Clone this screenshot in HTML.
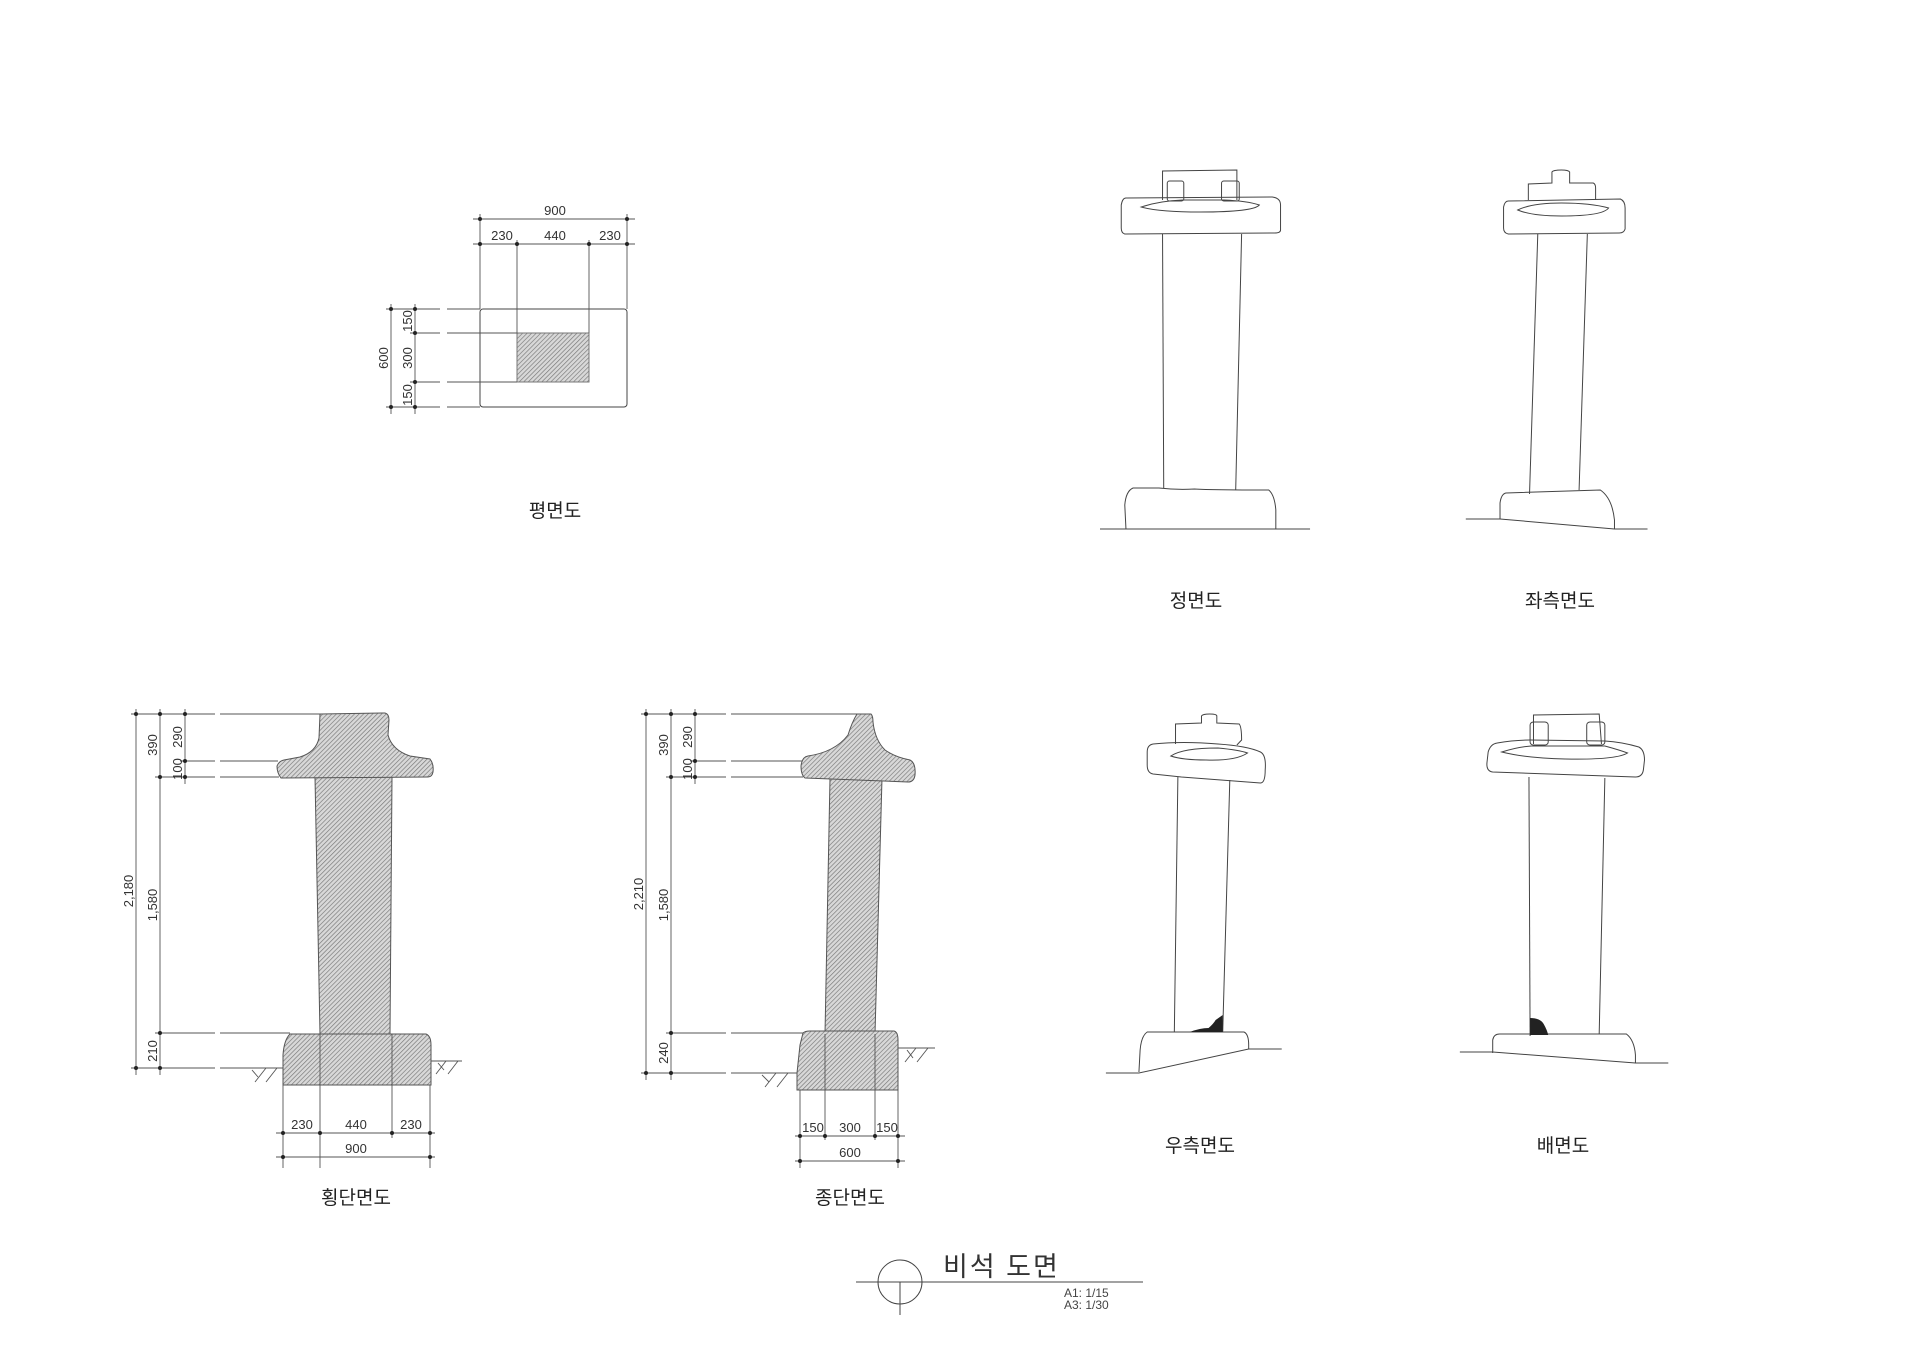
<!DOCTYPE html>
<html><head><meta charset="utf-8"><style>
html,body{margin:0;padding:0;background:#fff}
svg{display:block}
text{font-family:"Liberation Sans","Noto Sans CJK KR",sans-serif;fill:#333}
.l{fill:none;stroke:#444;stroke-width:1}
.l *{vector-effect:non-scaling-stroke}
.d{fill:none;stroke:#555;stroke-width:0.9}
.h{fill:url(#hatch);stroke:#555;stroke-width:1}
.t{font-size:13px;text-anchor:middle}
.lab{font-size:19px;text-anchor:middle;fill:#222}
</style></head><body>
<svg width="1920" height="1357" viewBox="0 0 1920 1357" xmlns="http://www.w3.org/2000/svg">
<defs>
<pattern id="hatch" width="3.2" height="3.2" patternUnits="userSpaceOnUse" patternTransform="rotate(45)">
<rect width="3.2" height="3.2" fill="#d8d8d8"/>
<line x1="0" y1="0" x2="0" y2="3.2" stroke="#777" stroke-width="1.3"/>
</pattern>
<g id="dot"><circle r="2" fill="#222"/></g>
</defs>

<!-- ===== 평면도 ===== -->
<g>
<rect x="480" y="309" width="147" height="98" rx="3" class="l"/>
<rect x="517" y="333" width="72" height="49" class="h" style="stroke:#777"/>
<line x1="473" y1="219" x2="635" y2="219" class="d"/>
<line x1="473" y1="244" x2="635" y2="244" class="d"/>
<line x1="480" y1="214" x2="480" y2="309" class="d"/>
<line x1="627" y1="214" x2="627" y2="309" class="d"/>
<line x1="517" y1="240" x2="517" y2="333" class="d"/>
<line x1="589" y1="240" x2="589" y2="333" class="d"/>
<use href="#dot" x="480" y="219"/><use href="#dot" x="627" y="219"/>
<use href="#dot" x="480" y="244"/><use href="#dot" x="517" y="244"/><use href="#dot" x="589" y="244"/><use href="#dot" x="627" y="244"/>
<text x="555" y="215" class="t">900</text>
<text x="502" y="240" class="t">230</text>
<text x="555" y="240" class="t">440</text>
<text x="610" y="240" class="t">230</text>
<line x1="391" y1="304" x2="391" y2="414" class="d"/>
<line x1="415" y1="304" x2="415" y2="414" class="d"/>
<line x1="386" y1="309" x2="440" y2="309" class="d"/><line x1="447" y1="309" x2="480" y2="309" class="d"/>
<line x1="410" y1="333" x2="440" y2="333" class="d"/><line x1="447" y1="333" x2="517" y2="333" class="d"/>
<line x1="410" y1="382" x2="440" y2="382" class="d"/><line x1="447" y1="382" x2="517" y2="382" class="d"/>
<line x1="386" y1="407" x2="440" y2="407" class="d"/><line x1="447" y1="407" x2="480" y2="407" class="d"/>
<use href="#dot" x="391" y="309"/><use href="#dot" x="391" y="407"/>
<use href="#dot" x="415" y="309"/><use href="#dot" x="415" y="333"/><use href="#dot" x="415" y="382"/><use href="#dot" x="415" y="407"/>
<text transform="translate(393,358) rotate(-90)" x="0" y="-5" class="t">600</text>
<text transform="translate(417,321) rotate(-90)" x="0" y="-5" class="t">150</text>
<text transform="translate(417,358) rotate(-90)" x="0" y="-5" class="t">300</text>
<text transform="translate(417,395) rotate(-90)" x="0" y="-5" class="t">150</text>
<text x="555" y="517" class="lab">평면도</text>
</g>

<!-- ===== 횡단면도 ===== -->
<g>
<line x1="136" y1="709" x2="136" y2="1075" class="d"/>
<line x1="160" y1="709" x2="160" y2="1075" class="d"/>
<line x1="185" y1="709" x2="185" y2="784" class="d"/>
<line x1="131" y1="714" x2="215" y2="714" class="d"/><line x1="220" y1="714" x2="320" y2="714" class="d"/>
<line x1="180" y1="761" x2="215" y2="761" class="d"/><line x1="220" y1="761" x2="278" y2="761" class="d"/>
<line x1="155" y1="777" x2="215" y2="777" class="d"/><line x1="220" y1="777" x2="279" y2="777" class="d"/>
<line x1="155" y1="1033" x2="215" y2="1033" class="d"/><line x1="220" y1="1033" x2="290" y2="1033" class="d"/>
<line x1="131" y1="1068" x2="215" y2="1068" class="d"/><line x1="220" y1="1068" x2="283" y2="1068" class="d"/>
<use href="#dot" x="136" y="714"/><use href="#dot" x="160" y="714"/><use href="#dot" x="185" y="714"/>
<use href="#dot" x="185" y="761"/><use href="#dot" x="160" y="777"/><use href="#dot" x="185" y="777"/>
<use href="#dot" x="160" y="1033"/><use href="#dot" x="136" y="1068"/><use href="#dot" x="160" y="1068"/>
<text transform="translate(138,891) rotate(-90)" y="-5" class="t">2,180</text>
<text transform="translate(162,745) rotate(-90)" y="-5" class="t">390</text>
<text transform="translate(187,737) rotate(-90)" y="-5" class="t">290</text>
<text transform="translate(187,769) rotate(-90)" y="-5" class="t">100</text>
<text transform="translate(162,905) rotate(-90)" y="-5" class="t">1,580</text>
<text transform="translate(162,1051) rotate(-90)" y="-5" class="t">210</text>
<path d="M315 777 L392 777 L390 1034 L320 1034 Z" class="h"/>
<path d="M320 714 L385 713 Q389 714 389 720 L388 735 Q392 750 410 756 L430 759 Q434 764 433 772 Q432 777 428 777 L281 778 Q277 773 277 766 Q279 761 284 760 L300 757 Q316 752 319 738 Z" class="h"/>
<path d="M283 1085 L283 1055 Q284 1040 290 1034 L426 1034 Q431 1036 431 1045 L431 1085 Z" class="h"/>
<line x1="320" y1="1034" x2="320" y2="1168" class="d"/>
<line x1="392" y1="1034" x2="392" y2="1138" class="d"/>
<line x1="283" y1="1085" x2="283" y2="1168" class="d"/>
<line x1="430" y1="1085" x2="430" y2="1168" class="d"/>
<g class="d">
<line x1="250" y1="1068" x2="283" y2="1068"/><line x1="255" y1="1082" x2="266" y2="1068"/><line x1="266" y1="1082" x2="277" y2="1068"/><line x1="258" y1="1077" x2="252" y2="1070"/>
<line x1="431" y1="1061" x2="462" y2="1061"/><line x1="436" y1="1074" x2="446" y2="1061"/><line x1="448" y1="1074" x2="458" y2="1061"/><line x1="444" y1="1070" x2="438" y2="1063"/>
</g>
<line x1="276" y1="1133" x2="435" y2="1133" class="d"/>
<line x1="276" y1="1157" x2="435" y2="1157" class="d"/>
<use href="#dot" x="283" y="1133"/><use href="#dot" x="320" y="1133"/><use href="#dot" x="392" y="1133"/><use href="#dot" x="430" y="1133"/>
<use href="#dot" x="283" y="1157"/><use href="#dot" x="430" y="1157"/>
<text x="302" y="1129" class="t">230</text>
<text x="356" y="1129" class="t">440</text>
<text x="411" y="1129" class="t">230</text>
<text x="356" y="1153" class="t">900</text>
<text x="356" y="1204" class="lab">횡단면도</text>
</g>

<!-- ===== 종단면도 ===== -->
<g>
<line x1="646" y1="709" x2="646" y2="1080" class="d"/>
<line x1="671" y1="709" x2="671" y2="1080" class="d"/>
<line x1="695" y1="709" x2="695" y2="784" class="d"/>
<line x1="641" y1="714" x2="726" y2="714" class="d"/><line x1="731" y1="714" x2="858" y2="714" class="d"/>
<line x1="690" y1="761" x2="726" y2="761" class="d"/><line x1="731" y1="761" x2="802" y2="761" class="d"/>
<line x1="666" y1="777" x2="726" y2="777" class="d"/><line x1="731" y1="777" x2="803" y2="777" class="d"/>
<line x1="666" y1="1033" x2="726" y2="1033" class="d"/><line x1="731" y1="1033" x2="803" y2="1033" class="d"/>
<line x1="641" y1="1073" x2="726" y2="1073" class="d"/><line x1="731" y1="1073" x2="797" y2="1073" class="d"/>
<use href="#dot" x="646" y="714"/><use href="#dot" x="671" y="714"/><use href="#dot" x="695" y="714"/>
<use href="#dot" x="695" y="761"/><use href="#dot" x="671" y="777"/><use href="#dot" x="695" y="777"/>
<use href="#dot" x="671" y="1033"/><use href="#dot" x="646" y="1073"/><use href="#dot" x="671" y="1073"/>
<text transform="translate(648,894) rotate(-90)" y="-5" class="t">2,210</text>
<text transform="translate(673,745) rotate(-90)" y="-5" class="t">390</text>
<text transform="translate(697,737) rotate(-90)" y="-5" class="t">290</text>
<text transform="translate(697,769) rotate(-90)" y="-5" class="t">100</text>
<text transform="translate(673,905) rotate(-90)" y="-5" class="t">1,580</text>
<text transform="translate(673,1053) rotate(-90)" y="-5" class="t">240</text>
<path d="M830 778 L882 778 L875 1034 L825 1034 Z" class="h"/>
<path d="M857 714 L871 714 Q873 716 873 722 Q875 740 885 750 Q895 757 910 760 Q916 763 915 775 Q914 782 908 782 L805 778 Q801 775 801 766 Q802 757 808 756 Q835 752 848 735 Q852 722 857 714 Z" class="h"/>
<path d="M797 1090 L797 1073 L800 1045 L803 1033 Q805 1031 810 1031 L894 1031 Q898 1032 898 1040 L898 1090 Z" class="h"/>
<line x1="825" y1="1034" x2="825" y2="1140" class="d"/>
<line x1="875" y1="1034" x2="875" y2="1140" class="d"/>
<line x1="800" y1="1090" x2="800" y2="1168" class="d"/>
<line x1="898" y1="1090" x2="898" y2="1168" class="d"/>
<g class="d">
<line x1="760" y1="1073" x2="797" y2="1073"/><line x1="765" y1="1087" x2="776" y2="1073"/><line x1="777" y1="1087" x2="788" y2="1073"/><line x1="769" y1="1082" x2="762" y2="1075"/>
<line x1="898" y1="1048" x2="935" y2="1048"/><line x1="905" y1="1062" x2="916" y2="1048"/><line x1="917" y1="1062" x2="928" y2="1048"/><line x1="913" y1="1058" x2="907" y2="1050"/>
</g>
<line x1="795" y1="1136" x2="905" y2="1136" class="d"/>
<line x1="795" y1="1161" x2="905" y2="1161" class="d"/>
<use href="#dot" x="800" y="1136"/><use href="#dot" x="825" y="1136"/><use href="#dot" x="875" y="1136"/><use href="#dot" x="898" y="1136"/>
<use href="#dot" x="800" y="1161"/><use href="#dot" x="898" y="1161"/>
<text x="813" y="1132" class="t">150</text>
<text x="850" y="1132" class="t">300</text>
<text x="887" y="1132" class="t">150</text>
<text x="850" y="1157" class="t">600</text>
<text x="850" y="1204" class="lab">종단면도</text>
</g>

<!-- ===== elevations (x-stretched) ===== -->
<g transform="translate(1100,0) scale(1.18,1) translate(-1100,0)">
<g class="l">
<path d="M1153 200 L1153 171 L1216 170 L1216 200"/>
<rect x="1157" y="181" width="14" height="20" rx="2"/>
<rect x="1203" y="181" width="15" height="20" rx="2"/>
<path d="M1122 198 L1246 197 Q1253 198 1253 205 L1253 230 Q1253 233 1248 233 L1121 234 Q1118 233 1118 228 L1118 205 Q1119 198 1122 198 Z"/>
<path d="M1135 207 Q1150 201 1170 200 L1205 200 Q1225 201 1235 205 Q1230 212 1185 212 Q1150 212 1135 207 Z"/>
<path d="M1153 234 L1154 488"/>
<path d="M1220 234 L1215 490"/>
<path d="M1122 529 L1121 505 Q1122 491 1128 488 L1150 488 Q1165 490 1180 489 Q1195 490 1243 490 Q1248 495 1249 510 L1249 529"/>
<line x1="1100" y1="529" x2="1278" y2="529"/>
</g>
<g transform="translate(-9,0)">
<g class="l">
<path d="M1472 200 L1472 184 L1492 183 L1492 172 Q1493 170 1500 170 Q1506 170 1507 172 L1507 183 L1527 183 Q1529 184 1529 188 L1529 200"/>
<path d="M1455 201 L1550 199 Q1554 201 1554 208 L1554 229 Q1553 233 1549 233 L1455 234 Q1451 233 1451 228 L1451 207 Q1452 201 1455 201 Z"/>
<path d="M1463 210 Q1475 203 1500 203 Q1525 203 1540 208 Q1535 216 1500 216 Q1475 216 1463 210 Z"/>
<path d="M1480 234 L1473 494"/>
<path d="M1522 234 L1515 490"/>
<path d="M1448 519 L1448 503 Q1449 494 1453 493 L1533 490 Q1543 498 1545 520 L1545 529"/>
<path d="M1419 519 L1448 519 L1545 529 L1573 529"/>
</g>
</g>
<g class="l">
<path d="M1164 744 L1164 724 L1186 723 L1186 716 Q1187 714 1193 714 Q1199 714 1199 716 L1199 723 L1218 724 Q1220 727 1220 740 L1216 745"/>
<path d="M1145 744 Q1170 741 1200 744 Q1225 746 1236 752 Q1241 755 1240 770 Q1240 783 1236 783 L1169 777 L1145 774 Q1140 773 1140 765 L1140 752 Q1140 745 1145 744 Z"/>
<path d="M1160 756 Q1170 748 1200 748 Q1218 750 1225 753 Q1215 761 1190 760 Q1170 760 1160 756 Z"/>
<path d="M1166 777 L1163 1032"/>
<path d="M1210 780 L1204 1032"/>
<path d="M1133 1072 L1134 1050 Q1135 1036 1140 1032 L1222 1032 Q1226 1034 1226 1045 L1226 1049"/>
<path d="M1105 1073 L1133 1073 L1226 1049 L1254 1049"/>
</g>
<path d="M1176 1032 Q1185 1028 1192 1028 Q1196 1024 1198 1020 L1204 1015 L1204 1032 Z" fill="#222"/>
<g transform="translate(1500,0) scale(0.96,1) translate(-1500,0) translate(-6,0)">
<g class="l">
<path d="M1472 744 L1472 715 L1530 714 L1532 744"/>
<rect x="1469" y="722" width="16" height="23" rx="3"/>
<rect x="1519" y="722" width="16" height="23" rx="3"/>
<path d="M1440 743 Q1455 740 1469 740 L1535 741 Q1550 742 1565 747 Q1570 750 1570 760 L1569 770 Q1568 777 1562 777 L1436 772 Q1430 771 1431 762 L1432 752 Q1434 744 1440 743 Z"/>
<path d="M1444 752 Q1458 747 1470 746 L1535 746 Q1548 750 1555 753 Q1545 760 1500 759 Q1465 758 1444 752 Z"/>
<path d="M1468 777 L1469 1036"/>
<path d="M1535 778 L1530 1034"/>
<path d="M1436 1053 L1436 1040 Q1437 1034 1442 1034 L1554 1034 Q1561 1040 1562 1055 L1562 1063"/>
<path d="M1407 1052 L1436 1052 L1562 1063 L1591 1063"/>
</g>
<path d="M1469 1018 Q1478 1018 1481 1024 Q1484 1030 1485 1035 L1469 1035 Z" fill="#222"/>
</g>
</g>
<text x="1196" y="607" class="lab">정면도</text>
<text x="1560" y="607" class="lab">좌측면도</text>
<text x="1200" y="1152" class="lab">우측면도</text>
<text x="1563" y="1152" class="lab">배면도</text>

<!-- ===== title ===== -->
<g class="l">
<circle cx="900" cy="1282" r="22"/>
<line x1="856" y1="1282" x2="1143" y2="1282"/>
<line x1="900" y1="1282" x2="900" y2="1315"/>
</g>
<text x="943" y="1276" style="font-size:27px;fill:#333;letter-spacing:2px">비석 도면</text>
<text x="1064" y="1297" style="font-size:12px;fill:#444">A1: 1/15</text>
<text x="1064" y="1309" style="font-size:12px;fill:#444">A3: 1/30</text>
</svg>
</body></html>
